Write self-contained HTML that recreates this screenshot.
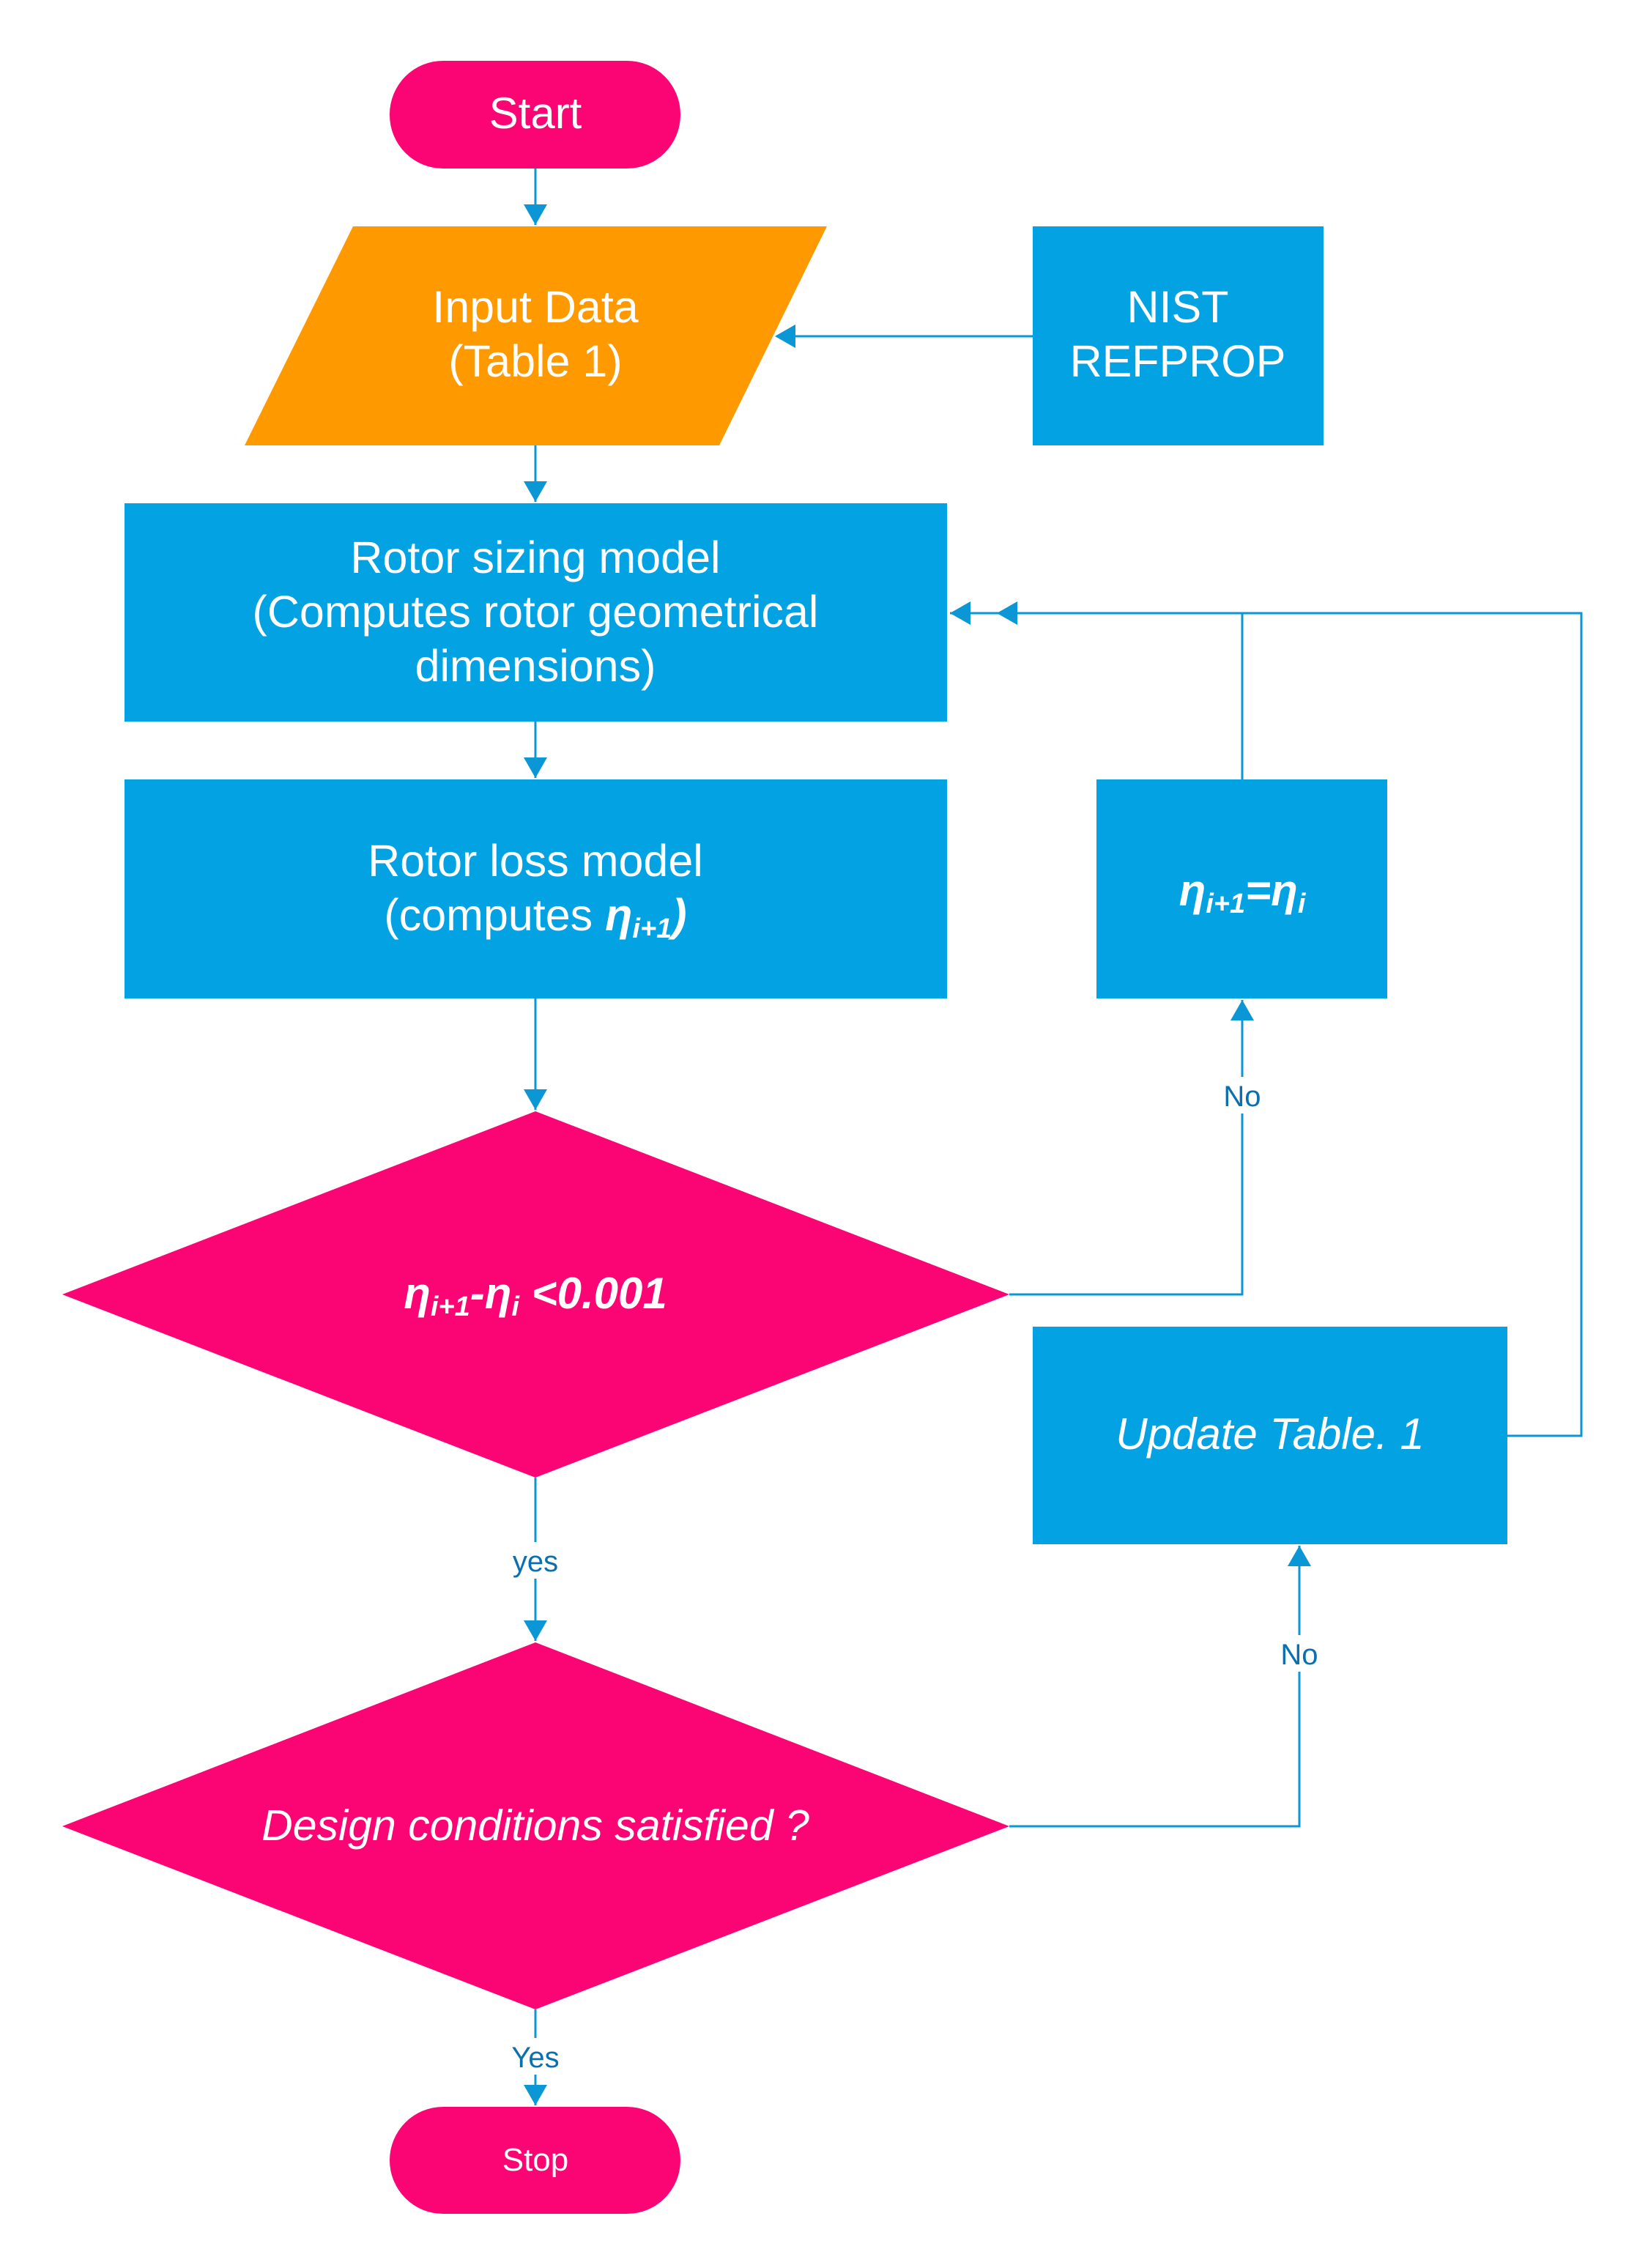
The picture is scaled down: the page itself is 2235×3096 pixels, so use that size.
<!DOCTYPE html>
<html><head><meta charset="utf-8"><style>
html,body{margin:0;padding:0;background:#fff;}
svg{display:block;}
text{font-family:"Liberation Sans",sans-serif;}
</style></head><body>
<svg width="2235" height="3096" viewBox="0 0 2235 3096" xmlns="http://www.w3.org/2000/svg">
<g fill="none" stroke="#0B96D6" stroke-width="3">
<path d="M731,230 V307"/>
<path d="M731,608 V685"/>
<path d="M731,985 V1062"/>
<path d="M731,1363 V1515"/>
<path d="M1410,459 H1060"/>
<path d="M1378,1767 H1696 V1365"/>
<path d="M1696,1064 V837 H1297"/>
<path d="M2058,1960 H2159 V837 H1363"/>
<path d="M731,2017 V2240"/>
<path d="M1378,2493 H1774 V2110"/>
<path d="M731,2743 V2874"/>
</g>
<g fill="#0B96D6">
<path d="M731,307 l-16,-28 h32 z"/>
<path d="M731,685 l-16,-28 h32 z"/>
<path d="M731,1062 l-16,-28 h32 z"/>
<path d="M731,1515 l-16,-28 h32 z"/>
<path d="M731,2240 l-16,-28 h32 z"/>
<path d="M731,2874 l-16,-28 h32 z"/>
<path d="M1058,459 l28,-16 v32 z"/>
<path d="M1297,837 l28,-16 v32 z"/>
<path d="M1361,837 l28,-16 v32 z"/>
<path d="M1696,1365 l-16,28 h32 z"/>
<path d="M1774,2110 l-16,28 h32 z"/>
</g>
<rect x="532" y="83" width="397" height="147" rx="73" fill="#FB0474"/>
<text x="731" y="175" font-size="60" fill="#fff" text-anchor="middle">Start</text>
<polygon points="482,309 1129,309 982,608 334,608" fill="#FF9900"/>
<text x="731" y="440" font-size="61" fill="#fff" text-anchor="middle">Input Data</text>
<text x="731" y="514" font-size="61" fill="#fff" text-anchor="middle">(Table 1)</text>
<rect x="1410" y="309" width="397" height="299" fill="#03A2E2"/>
<text x="1608" y="440" font-size="61" fill="#fff" text-anchor="middle">NIST</text>
<text x="1608" y="514" font-size="61" fill="#fff" text-anchor="middle">REFPROP</text>
<rect x="170" y="687" width="1123" height="298" fill="#03A2E2"/>
<text x="731" y="782" font-size="61" fill="#fff" text-anchor="middle">Rotor sizing model</text>
<text x="731" y="856" font-size="61" fill="#fff" text-anchor="middle">(Computes rotor geometrical</text>
<text x="731" y="930" font-size="61" fill="#fff" text-anchor="middle">dimensions)</text>
<rect x="170" y="1064" width="1123" height="299" fill="#03A2E2"/>
<text x="731" y="1196" font-size="61" fill="#fff" text-anchor="middle">Rotor loss model</text>
<text x="731" y="1270" font-size="61" fill="#fff" text-anchor="middle">(computes <tspan font-weight="bold" font-style="italic">η<tspan font-size="38" dy="10">i+1</tspan><tspan dy="-10">)</tspan></tspan></text>
<rect x="1497" y="1064" width="397" height="299" fill="#03A2E2"/>
<text x="1696" y="1236" font-size="60" fill="#fff" text-anchor="middle" font-weight="bold" font-style="italic">η<tspan font-size="38" dy="10">i+1</tspan><tspan dy="-10">=η</tspan><tspan font-size="38" dy="10">i</tspan></text>
<polygon points="731,1517 1378,1767 731,2017 85,1767" fill="#FB0474"/>
<text x="731" y="1786" font-size="60" fill="#fff" text-anchor="middle" font-weight="bold" font-style="italic">η<tspan font-size="38" dy="10">i+1</tspan><tspan dy="-10">-η</tspan><tspan font-size="38" dy="10">i</tspan><tspan dy="-10"> &lt;0.001</tspan></text>
<rect x="1410" y="1811" width="648" height="297" fill="#03A2E2"/>
<text x="1734" y="1978" font-size="60" fill="#fff" text-anchor="middle" font-style="italic">Update Table. 1</text>
<polygon points="731,2242 1378,2493 731,2743 85,2493" fill="#FB0474"/>
<text x="731" y="2512" font-size="59" fill="#fff" text-anchor="middle" font-style="italic">Design conditions satisfied ?</text>
<rect x="532" y="2876" width="397" height="146" rx="73" fill="#FB0474"/>
<text x="731" y="2963" font-size="44" fill="#fff" text-anchor="middle">Stop</text>
<g font-size="40" fill="#0B6FB0" text-anchor="middle">
<rect x="1666" y="1470" width="60" height="50" fill="#fff"/>
<text x="1696" y="1510">No</text>
<rect x="696" y="2105" width="70" height="50" fill="#fff"/>
<text x="731" y="2145">yes</text>
<rect x="1744" y="2232" width="60" height="50" fill="#fff"/>
<text x="1774" y="2272">No</text>
<rect x="696" y="2782" width="70" height="50" fill="#fff"/>
<text x="731" y="2822">Yes</text>
</g>
</svg>
</body></html>
